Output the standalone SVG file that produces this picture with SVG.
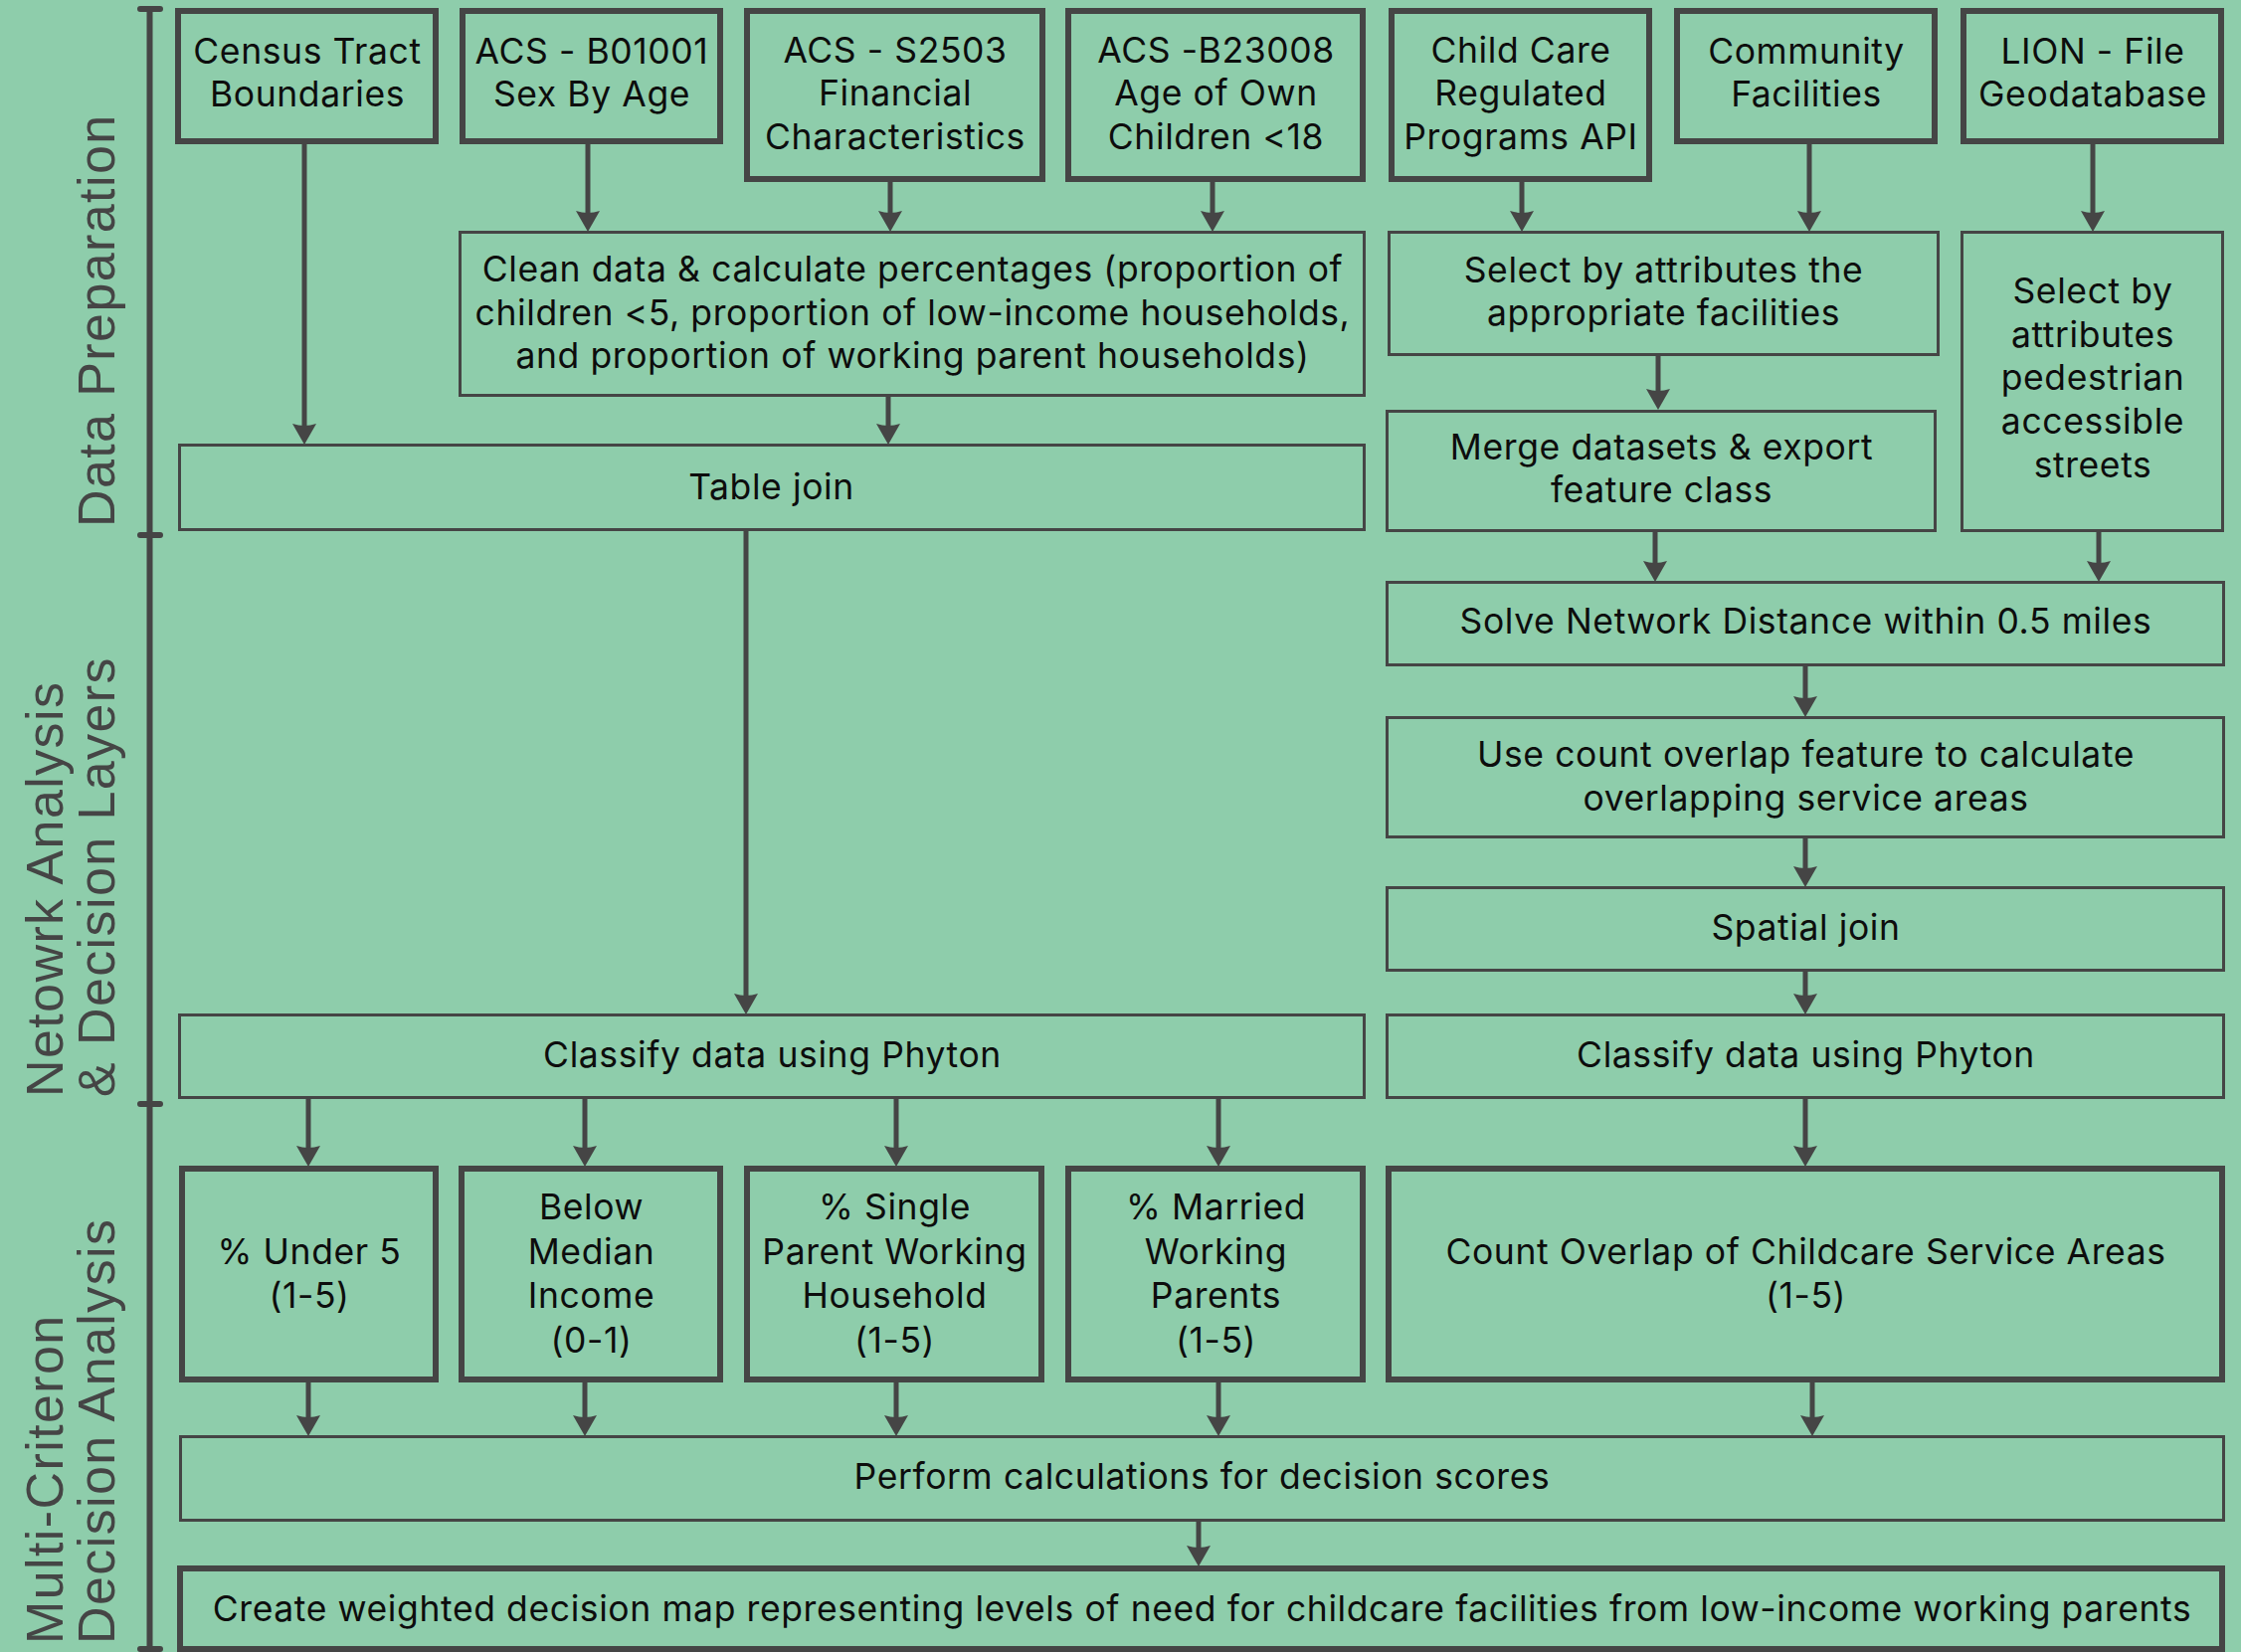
<svg xmlns="http://www.w3.org/2000/svg" width="2253" height="1661" viewBox="0 0 2253 1661">
<style>
.bg{fill:#8ecdab}
.thick{fill:#8ecdab;stroke:#454545;stroke-width:6}
.thin{fill:#8ecdab;stroke:#454545;stroke-width:3}
.t{font-family:Inter,"Liberation Sans",sans-serif;font-size:35.5px;fill:#0d0d0d;text-anchor:middle;letter-spacing:0.6px}
.side{font-family:"Liberation Sans",Arial,sans-serif;font-size:52px;fill:#454545;letter-spacing:1.4px}
.con{fill:none;stroke:#454545;stroke-width:5;marker-end:url(#ah)}
.br{fill:none;stroke:#454545;stroke-width:6;stroke-linecap:round}
</style>
<defs>
<marker id="ah" markerUnits="userSpaceOnUse" markerWidth="22" markerHeight="24" viewBox="0 0 22 24" refX="10" refY="12" orient="auto">
<path d="M0,0 Q4,12 0,24 L21,12 Z" fill="#454545"/>
</marker>
</defs>
<rect class="bg" x="0" y="0" width="2253" height="1661"/>

<g id="bracket">
<path class="br" d="M150.5,9 V1658"/>
<path class="br" d="M141,9 H161 M141,538 H161 M141,1110 H161 M141,1658 H161"/>
</g>
<g id="side-labels">
<text class="side" transform="translate(115,530) rotate(-90)">Data Preparation</text>
<text class="side" transform="translate(63,1103) rotate(-90)">Netowrk Analysis</text>
<text class="side" transform="translate(115,1103) rotate(-90)">&amp; Decision Layers</text>
<text class="side" transform="translate(63,1653) rotate(-90)">Multi-Criteron</text>
<text class="side" transform="translate(115,1653) rotate(-90)">Decision Analysis</text>
</g>

<g id="connectors">
<path class="con" d="M306,145 V436"/>
<path class="con" d="M591,145 V222"/>
<path class="con" d="M895,183 V222"/>
<path class="con" d="M1219,183 V222"/>
<path class="con" d="M1530,183 V222"/>
<path class="con" d="M1819,145 V222"/>
<path class="con" d="M2104,145 V222"/>
<path class="con" d="M893,399 V436"/>
<path class="con" d="M1667,358 V401"/>
<path class="con" d="M1664,535 V574"/>
<path class="con" d="M2110,535 V574"/>
<path class="con" d="M750,534 V1009"/>
<path class="con" d="M1815,670 V710"/>
<path class="con" d="M1815,843 V881"/>
<path class="con" d="M1815,977 V1009"/>
<path class="con" d="M310,1105 V1162"/>
<path class="con" d="M588,1105 V1162"/>
<path class="con" d="M901,1105 V1162"/>
<path class="con" d="M1225,1105 V1162"/>
<path class="con" d="M1815,1105 V1162"/>
<path class="con" d="M310,1390 V1433"/>
<path class="con" d="M588,1390 V1433"/>
<path class="con" d="M901,1390 V1433"/>
<path class="con" d="M1225,1390 V1433"/>
<path class="con" d="M1822,1390 V1433"/>
<path class="con" d="M1205,1530 V1564"/>
</g>

<g id="census">
<rect class="thick" x="179" y="11" width="259" height="131"/>
<text class="t" x="309" y="64">Census Tract</text>
<text class="t" x="309" y="107">Boundaries</text>
</g>
<g id="b01001">
<rect class="thick" x="465" y="11" width="259" height="131"/>
<text class="t" x="595" y="64">ACS - B01001</text>
<text class="t" x="595" y="107">Sex By Age</text>
</g>
<g id="s2503">
<rect class="thick" x="751" y="11" width="297" height="169"/>
<text class="t" x="900" y="63">ACS - S2503</text>
<text class="t" x="900" y="106">Financial</text>
<text class="t" x="900" y="150">Characteristics</text>
</g>
<g id="b23008">
<rect class="thick" x="1074" y="11" width="296" height="169"/>
<text class="t" x="1222.5" y="63">ACS -B23008</text>
<text class="t" x="1222.5" y="106">Age of Own</text>
<text class="t" x="1222.5" y="150">Children &lt;18</text>
</g>
<g id="childcare">
<rect class="thick" x="1399" y="11" width="259" height="169"/>
<text class="t" x="1529" y="63">Child Care</text>
<text class="t" x="1529" y="106">Regulated</text>
<text class="t" x="1529" y="150">Programs API</text>
</g>
<g id="community">
<rect class="thick" x="1686" y="11" width="259" height="131"/>
<text class="t" x="1816" y="64">Community</text>
<text class="t" x="1816" y="107">Facilities</text>
</g>
<g id="lion">
<rect class="thick" x="1974" y="11" width="259" height="131"/>
<text class="t" x="2104" y="64">LION - File</text>
<text class="t" x="2104" y="107">Geodatabase</text>
</g>

<g id="clean">
<rect class="thin" x="462.5" y="233.5" width="909" height="164"/>
<text class="t" x="917.5" y="283">Clean data &amp; calculate percentages (proportion of</text>
<text class="t" x="917.5" y="327">children &lt;5, proportion of low-income households,</text>
<text class="t" x="917.5" y="370">and proportion of working parent households)</text>
</g>
<g id="select-facilities">
<rect class="thin" x="1396.5" y="233.5" width="552" height="123"/>
<text class="t" x="1672.5" y="284">Select by attributes the</text>
<text class="t" x="1672.5" y="327">appropriate facilities</text>
</g>
<g id="select-streets">
<rect class="thin" x="1972.5" y="233.5" width="262" height="300"/>
<text class="t" x="2104" y="305">Select by</text>
<text class="t" x="2104" y="349">attributes</text>
<text class="t" x="2104" y="392">pedestrian</text>
<text class="t" x="2104" y="436">accessible</text>
<text class="t" x="2104" y="480">streets</text>
</g>
<g id="merge">
<rect class="thin" x="1394.5" y="413.5" width="551" height="120"/>
<text class="t" x="1670.5" y="462">Merge datasets &amp; export</text>
<text class="t" x="1670.5" y="505">feature class</text>
</g>
<g id="tablejoin">
<rect class="thin" x="180.5" y="447.5" width="1191" height="85"/>
<text class="t" x="775.5" y="502">Table join</text>
</g>
<g id="solve">
<rect class="thin" x="1394.5" y="585.5" width="841" height="83"/>
<text class="t" x="1815.5" y="637">Solve Network Distance within 0.5 miles</text>
</g>
<g id="countoverlap-feature">
<rect class="thin" x="1394.5" y="721.5" width="841" height="120"/>
<text class="t" x="1815.5" y="771">Use count overlap feature to calculate</text>
<text class="t" x="1815.5" y="815">overlapping service areas</text>
</g>
<g id="spatialjoin">
<rect class="thin" x="1394.5" y="892.5" width="841" height="83"/>
<text class="t" x="1815.5" y="945">Spatial join</text>
</g>
<g id="classify-left">
<rect class="thin" x="180.5" y="1020.5" width="1191" height="83"/>
<text class="t" x="776.5" y="1073">Classify data using Phyton</text>
</g>
<g id="classify-right">
<rect class="thin" x="1394.5" y="1020.5" width="841" height="83"/>
<text class="t" x="1815.5" y="1073">Classify data using Phyton</text>
</g>

<g id="under5">
<rect class="thick" x="183" y="1175" width="255" height="212"/>
<text class="t" x="311" y="1271">% Under 5</text>
<text class="t" x="311" y="1315">(1-5)</text>
</g>
<g id="belowmedian">
<rect class="thick" x="464" y="1175" width="260" height="212"/>
<text class="t" x="594.5" y="1226">Below</text>
<text class="t" x="594.5" y="1271">Median</text>
<text class="t" x="594.5" y="1315">Income</text>
<text class="t" x="594.5" y="1360">(0-1)</text>
</g>
<g id="single">
<rect class="thick" x="751" y="1175" width="296" height="212"/>
<text class="t" x="899.5" y="1226">% Single</text>
<text class="t" x="899.5" y="1271">Parent Working</text>
<text class="t" x="899.5" y="1315">Household</text>
<text class="t" x="899.5" y="1360">(1-5)</text>
</g>
<g id="married">
<rect class="thick" x="1074" y="1175" width="296" height="212"/>
<text class="t" x="1222.5" y="1226">% Married</text>
<text class="t" x="1222.5" y="1271">Working</text>
<text class="t" x="1222.5" y="1315">Parents</text>
<text class="t" x="1222.5" y="1360">(1-5)</text>
</g>
<g id="countoverlap">
<rect class="thick" x="1396" y="1175" width="838" height="212"/>
<text class="t" x="1815.5" y="1271">Count Overlap of Childcare Service Areas</text>
<text class="t" x="1815.5" y="1315">(1-5)</text>
</g>
<g id="perform">
<rect class="thin" x="181.5" y="1444.5" width="2054" height="84"/>
<text class="t" x="1208.5" y="1497">Perform calculations for decision scores</text>
</g>
<g id="create">
<rect class="thick" x="181" y="1577" width="2053" height="81"/>
<text class="t" x="1208.5" y="1630">Create weighted decision map representing levels of need for childcare facilities from low-income working parents</text>
</g>
</svg>
